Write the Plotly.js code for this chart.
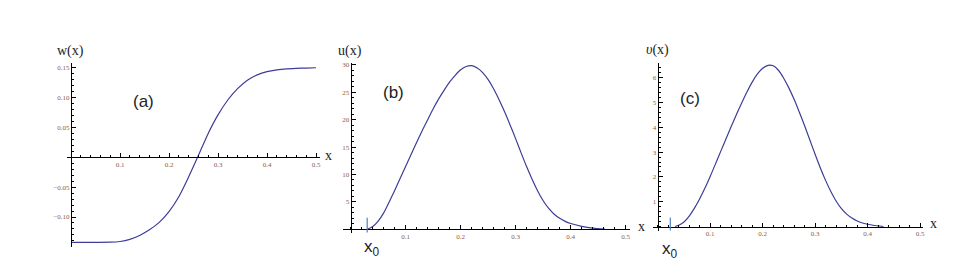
<!DOCTYPE html>
<html>
<head>
<meta charset="utf-8">
<script src="https://cdn.plot.ly/plotly-3.0.1.min.js"></script>
<style>html,body{margin:0;padding:0;background:#fff;}#chart{width:960px;height:279px;}</style>
</head>
<body>
<div id="chart"></div>
<script>
// ---------- DATA ----------
// Panel (a): w(x)
const A_x = [0, 0.04, 0.08, 0.10, 0.12, 0.14, 0.16, 0.18, 0.20, 0.22, 0.24, 0.26, 0.28, 0.30, 0.32, 0.34, 0.36, 0.38, 0.40, 0.42, 0.44, 0.46, 0.48, 0.50];
const A_w = [-0.1425, -0.1425, -0.1422, -0.1410, -0.1375, -0.1310, -0.1215, -0.1090, -0.0910, -0.0660, -0.0330, 0.0030, 0.0400, 0.0710, 0.0960, 0.1150, 0.1290, 0.1380, 0.1435, 0.1465, 0.1482, 0.1490, 0.1495, 0.1500];
// Panel (b): u(x)
const B_x = [0.030, 0.04, 0.05, 0.06, 0.07, 0.08, 0.09, 0.10, 0.11, 0.12, 0.13, 0.14, 0.15, 0.16, 0.17, 0.18, 0.19, 0.20, 0.21, 0.22, 0.23, 0.24, 0.25, 0.26, 0.27, 0.28, 0.29, 0.30, 0.31, 0.32, 0.33, 0.34, 0.35, 0.36, 0.37, 0.38, 0.39, 0.40, 0.42, 0.44, 0.462];
const B_u = [0, 0.5, 1.5, 3.0, 5.0, 7.1, 9.3, 11.5, 13.7, 15.9, 18.0, 20.0, 22.0, 23.8, 25.4, 26.9, 28.1, 29.1, 29.7, 29.85, 29.45, 28.6, 27.3, 25.6, 23.6, 21.4, 19.0, 16.5, 13.9, 11.4, 9.1, 7.0, 5.2, 3.8, 2.75, 2.0, 1.45, 1.05, 0.55, 0.22, 0.05];
// Panel (c): v(x)
const C_x = [0.033, 0.04, 0.05, 0.06, 0.07, 0.08, 0.09, 0.10, 0.11, 0.12, 0.13, 0.14, 0.15, 0.16, 0.17, 0.18, 0.19, 0.20, 0.21, 0.22, 0.23, 0.24, 0.25, 0.26, 0.27, 0.28, 0.29, 0.30, 0.31, 0.32, 0.33, 0.34, 0.35, 0.36, 0.37, 0.38, 0.39, 0.40, 0.41, 0.43];
const C_v = [0, 0.05, 0.18, 0.42, 0.74, 1.12, 1.55, 2.02, 2.52, 3.03, 3.53, 4.03, 4.52, 4.98, 5.42, 5.82, 6.15, 6.38, 6.50, 6.48, 6.30, 5.98, 5.58, 5.12, 4.60, 4.05, 3.48, 2.90, 2.35, 1.85, 1.40, 1.02, 0.72, 0.50, 0.34, 0.22, 0.14, 0.09, 0.05, 0];
// x0 markers
const X0_B = 0.030;
const X0_C = 0.024;
// Tick labels
const X_TICKS = [0.1, 0.2, 0.3, 0.4, 0.5];
const X_TICKTEXT = ["0.1", "0.2", "0.3", "0.4", "0.5"];
const A_YTICKS = [-0.10, -0.05, 0.05, 0.10, 0.15];
const A_YTICKTEXT = ["\u22120.10", "\u22120.05", "0.05", "0.10", "0.15"];
const B_YTICKS = [5, 10, 15, 20, 25, 30];
const B_YTICKTEXT = ["5", "10", "15", "20", "25", "30"];
const C_YTICKS = [1, 2, 3, 4, 5, 6];
const C_YTICKTEXT = ["1", "2", "3", "4", "5", "6"];

// ---------- LAYOUT HELPERS ----------
const W = 960, H = 279;
function panel(ox, sx, oy, sy, L, R, T, B) {
  return {
    xdom: [L / W, R / W],
    xr: [(L - ox) / sx, (R - ox) / sx],
    ydom: [1 - B / H, 1 - T / H],
    yr: [(oy - B) / sy, (oy - T) / sy],
    xpos: 1 - oy / H,
    ypos: ox / W
  };
}
const PA = panel(71, 490, 157.3, 597, 66.7, 320, 63.3, 246.7);
const PB = panel(350.7, 550, 229.3, 5.48, 343.3, 630, 62.7, 232.5);
const PC = panel(657.7, 525, 226.5, 24.8, 653.3, 923.3, 62.7, 230.5);

const tickFont = {family: "Liberation Serif, serif", size: 7, color: "#8a5e48"};
function xax(p, minor) {
  return {
    domain: p.xdom, range: p.xr, anchor: "free", position: p.xpos,
    showline: true, linecolor: "#000", linewidth: 1, showgrid: false, zeroline: false,
    ticks: "inside", ticklen: 4, tickcolor: "#000", tickwidth: 1,
    tickvals: X_TICKS, ticktext: X_TICKTEXT, tickfont: tickFont,
    minor: {dtick: minor, ticks: "inside", ticklen: 2, tickcolor: "#000", tickwidth: 1, showgrid: false},
    fixedrange: true
  };
}
function yax(p, vals, text, minor) {
  return {
    domain: p.ydom, range: p.yr, anchor: "free", position: p.ypos,
    showline: true, linecolor: "#000", linewidth: 1, showgrid: false, zeroline: false,
    ticks: "inside", ticklen: 4, tickcolor: "#000", tickwidth: 1,
    tickvals: vals, ticktext: text, tickfont: tickFont,
    minor: {dtick: minor, tick0: 0, ticks: "inside", ticklen: 2, tickcolor: "#000", tickwidth: 1, showgrid: false},
    fixedrange: true
  };
}

const curveLine = {color: "#3d3d99", width: 1.2, shape: "spline", smoothing: 0.8};
const traces = [
  {x: A_x, y: A_w, xaxis: "x", yaxis: "y", mode: "lines", line: curveLine, hoverinfo: "skip"},
  {x: B_x, y: B_u, xaxis: "x2", yaxis: "y2", mode: "lines", line: curveLine, hoverinfo: "skip"},
  {x: C_x, y: C_v, xaxis: "x3", yaxis: "y3", mode: "lines", line: curveLine, hoverinfo: "skip"}
];

function pAnn(text, px, py, font) {
  return {text: text, xref: "paper", yref: "paper", x: px / W, y: 1 - py / H,
    xanchor: "center", yanchor: "middle", showarrow: false, font: font};
}
const titleFont = {family: "Liberation Serif, serif", size: 14, color: "#222"};
const labFont = {family: "Liberation Sans, Arial, sans-serif", size: 17, color: "#222"};

const layout = {
  width: W, height: H,
  margin: {l: 0, r: 0, t: 0, b: 0},
  paper_bgcolor: "#fff", plot_bgcolor: "rgba(0,0,0,0)",
  showlegend: false,
  xaxis: xax(PA, 0.02),
  yaxis: yax(PA, A_YTICKS, A_YTICKTEXT, 0.01),
  xaxis2: xax(PB, 0.02),
  yaxis2: yax(PB, B_YTICKS, B_YTICKTEXT, 1),
  xaxis3: xax(PC, 0.02),
  yaxis3: yax(PC, C_YTICKS, C_YTICKTEXT, 0.2),
  shapes: [
    {type: "line", xref: "x2", yref: "y2", x0: X0_B, x1: X0_B, y0: -2.0, y1: 2.1, line: {color: "#4f81bd", width: 1.2}},
    {type: "line", xref: "x3", yref: "y3", x0: X0_C, x1: X0_C, y0: -0.55, y1: 0.36, line: {color: "#4f81bd", width: 1.2}}
  ],
  annotations: [
    pAnn("w(x)", 70, 50.5, titleFont),
    pAnn("u(x)", 350, 50.5, titleFont),
    pAnn("<i>\u03c5</i>(x)", 657, 50, titleFont),
    pAnn("x", 328.5, 155, titleFont),
    pAnn("x", 641, 226, titleFont),
    pAnn("x", 933, 223, titleFont),
    pAnn("(a)", 143.5, 101, labFont),
    pAnn("(b)", 393.5, 93, labFont),
    pAnn("(c)", 690, 98, labFont),
    pAnn("x<sub>0</sub>", 372, 248, labFont),
    pAnn("x<sub>0</sub>", 670, 250, labFont)
  ]
};

Plotly.newPlot("chart", traces, layout, {displayModeBar: false, staticPlot: true});
</script>
</body>
</html>
